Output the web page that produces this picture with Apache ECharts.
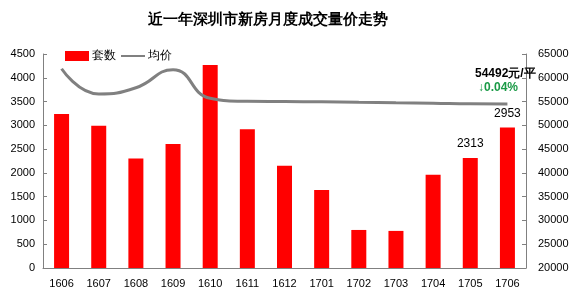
<!DOCTYPE html>
<html><head><meta charset="utf-8">
<script src="https://cdn.jsdelivr.net/npm/echarts@6/dist/echarts.min.js"></script>
<style>html,body{margin:0;padding:0;background:#fff}#c{width:583px;height:307px}</style>
</head><body><div id="c"></div>
<script>
var categories = ['1606','1607','1608','1609','1610','1611','1612','1701','1702','1703','1704','1705','1706'];
var units = [3240, 2990, 2300, 2610, 4270, 2920, 2150, 1640, 800, 780, 1960, 2313, 2953];
var prices = [61900, 56600, 57900, 61700, 55700, 55050, 55000, 54950, 54850, 54750, 54650, 54514, 54492];
var labeledBars = ['1705', '1706'];
var priceNote = '54492元/平';
var changeNote = '↓0.04%';

var font = 'Liberation Sans, Arial, sans-serif';
var chart = echarts.init(document.getElementById('c'));
chart.setOption({
  animation: false,
  title: {text: '近一年深圳市新房月度成交量价走势', left: 263, textAlign: 'center', top: 7,
    textStyle: {fontSize: 15, fontWeight: 'bold', color: '#000', fontFamily: font}},
  legend: {left: 60, top: 45, itemGap: 4, itemWidth: 24, itemHeight: 10,
    textStyle: {fontSize: 12, color: '#000', fontFamily: font, padding: [0,0,0,-2]},
    data: [{name: '套数', icon: 'rect'}, {name: '均价', itemStyle: {opacity: 0}}]},
  grid: {left: 43, right: 57, top: 54, bottom: 39},
  xAxis: {type: 'category', data: categories,
    axisLine: {lineStyle: {color: '#808080', width: 1}},
    axisTick: {inside: true, length: 4, lineStyle: {color: '#808080'}},
    axisLabel: {color: '#000', fontSize: 11, fontFamily: font, margin: 10}},
  yAxis: [
    {type: 'value', min: 0, max: 4500, interval: 500, splitLine: {show: false},
      axisLine: {show: true, lineStyle: {color: '#808080'}},
      axisTick: {show: true, inside: true, length: 4, lineStyle: {color: '#808080'}},
      axisLabel: {color: '#000', fontSize: 11, fontFamily: font, margin: 8, formatter: function (v) { return String(v); }}},
    {type: 'value', min: 20000, max: 65000, interval: 5000, splitLine: {show: false},
      axisLine: {show: true, lineStyle: {color: '#808080'}},
      axisTick: {show: true, inside: true, length: 4, lineStyle: {color: '#808080'}},
      axisLabel: {color: '#000', fontSize: 11, fontFamily: font, margin: 12, formatter: function (v) { return String(v); }}}
  ],
  series: [
    {name: '套数', type: 'bar', barWidth: 15, itemStyle: {color: '#FF0000'},
      data: units.map(function (v, i) {
        return labeledBars.indexOf(categories[i]) >= 0 ?
          {value: v, label: {show: true, position: 'top', distance: 8, color: '#000', fontSize: 12, fontFamily: font}} : v;
      })},
    {name: '均价', type: 'line', yAxisIndex: 1, smooth: 0.5, symbol: 'none',
      lineStyle: {color: '#808080', width: 3}, itemStyle: {color: '#808080'},
      data: prices}
  ],
  graphic: [
    {type: 'text', left: 475, top: 68, z: 100, style: {text: priceNote, fill: '#000', fontSize: 12, fontWeight: 'bold', fontFamily: font}},
    {type: 'text', left: 478, top: 82, z: 100, style: {text: changeNote, fill: '#1a9a46', fontSize: 12, fontWeight: 'bold', fontFamily: font}}
  ]
});
</script></body></html>
